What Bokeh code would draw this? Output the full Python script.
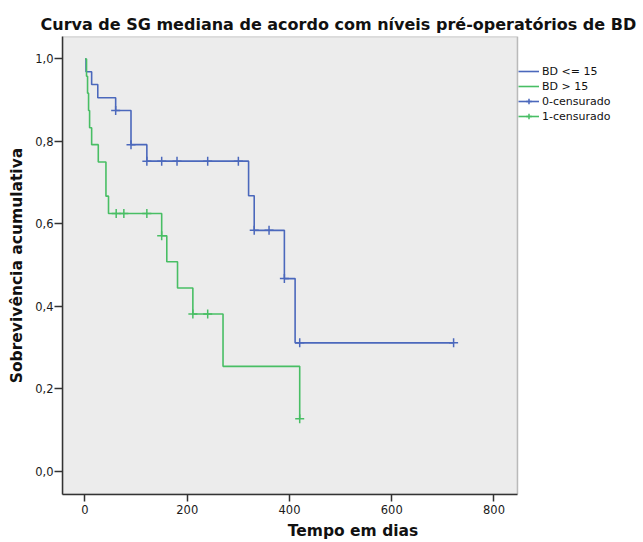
from bokeh.plotting import figure
from bokeh.models import FixedTicker, Range1d, Legend, LegendItem, BoxAnnotation
from bokeh.embed import file_html
from bokeh.resources import INLINE
import numpy as np

title_text = "Curva de SG mediana de acordo com níveis pré-operatórios de BD"
x_label = "Tempo em dias"
y_label = "Sobrevivência acumulativa"

group_labels = ["BD <= 15", "BD > 15"]
censor_labels = ["0-censurado", "1-censurado"]

blue_days = [0, 2, 13, 25, 60, 90, 121, 320, 331, 390, 411, 721]
blue_surv = [1.0, 0.969, 0.938, 0.906, 0.875, 0.792, 0.752, 0.668, 0.584, 0.467, 0.311, 0.311]
blue_censor_days = [60, 90, 121, 150, 180, 240, 300, 331, 360, 390, 420, 721]

green_days = [0, 3, 5, 7, 9, 13, 26, 41, 46, 150, 160, 181, 211, 270, 420]
green_surv = [1.0, 0.958, 0.917, 0.875, 0.833, 0.792, 0.75, 0.667, 0.625, 0.571, 0.508, 0.444, 0.381, 0.254, 0.127]
green_censor_days = [61, 76, 121, 150, 211, 240, 420]

x_ticks = [0, 200, 400, 600, 800]
y_ticks = [0.0, 0.2, 0.4, 0.6, 0.8, 1.0]
y_tick_labels = ["0,0", "0,2", "0,4", "0,6", "0,8", "1,0"]

# axis extent of the plotting box (the legend sits to its right)
X_LO, X_HI = -44, 846
Y_LO, Y_HI = -0.057, 1.0545

BLUE = "#4B68BC"
GREEN = "#48BE64"
FONT = "DejaVu Sans"
FRAME_W = 643 - 62  # canvas frame width in px
PX_PER_DAY = 455 / (X_HI - X_LO)


def level_at(days, surv, t):
    idx = np.searchsorted(np.array(days), np.array(t), side="right") - 1
    return list(np.array(surv)[idx])


p = figure(width=643, height=542, output_backend="svg", toolbar_location=None,
           x_range=Range1d(X_LO, X_LO + FRAME_W / PX_PER_DAY),
           y_range=Range1d(Y_LO, Y_HI),
           min_border_left=62, min_border_right=0, min_border_top=36,
           min_border_bottom=48)

p.background_fill_color = "white"
p.border_fill_color = "white"
p.outline_line_color = None
p.grid.visible = False

box = BoxAnnotation(left=X_LO, right=X_HI, bottom=Y_LO, top=Y_HI,
                    fill_color="#ececec", fill_alpha=1.0,
                    line_color="#333333", line_width=1.5, level="underlay")
p.add_layout(box)

p.title.text = title_text
p.title.text_font = FONT
p.title.text_font_size = "16px"
p.title.text_font_style = "bold"
p.title.text_color = "#111111"
p.title.align = "left"
p.title.offset = -22
p.title.standoff = 6

# axes
p.xaxis.ticker = FixedTicker(ticks=x_ticks)
p.yaxis.ticker = FixedTicker(ticks=y_ticks)
p.xaxis.bounds = (X_LO, X_HI)
p.yaxis.major_label_overrides = {t: l for t, l in zip(y_ticks, y_tick_labels)}
for ax in (p.xaxis[0], p.yaxis[0]):
    ax.axis_line_color = "#333333"
    ax.axis_line_width = 1.5
    ax.major_tick_line_color = "#333333"
    ax.major_tick_line_width = 1.5
    ax.major_tick_in = 0
    ax.minor_tick_line_color = None
    ax.major_label_text_font = FONT
    ax.major_label_text_font_size = "11.5px"
    ax.major_label_text_color = "#1a1a1a"
    ax.axis_label_text_font = FONT
    ax.axis_label_text_font_size = "15.5px"
    ax.axis_label_text_font_style = "bold"
    ax.axis_label_text_color = "#111111"
p.xaxis.major_tick_out = 7
p.xaxis.major_label_standoff = 3
p.xaxis.axis_label = x_label
p.xaxis.axis_label_standoff = 5
p.yaxis.major_tick_out = 8
p.yaxis.major_label_standoff = 1
p.yaxis.axis_label = y_label
p.yaxis.axis_label_standoff = 6

# curves
r_blue = p.step(blue_days, blue_surv, mode="after", line_color=BLUE, line_width=1.6)
r_green = p.step(green_days, green_surv, mode="after", line_color=GREEN, line_width=1.6)

c_blue = p.scatter(blue_censor_days, level_at(blue_days, blue_surv, blue_censor_days),
                   marker="cross", size=9, line_color=BLUE, line_width=1.5)
c_green = p.scatter(green_censor_days, level_at(green_days, green_surv, green_censor_days),
                    marker="cross", size=9, line_color=GREEN, line_width=1.5)

# legend-only line swatches for the censor entries (nothing drawn in the plot)
l_blue = p.line(np.array([np.nan, np.nan]), np.array([np.nan, np.nan]),
                line_color=BLUE, line_width=1.6)
l_green = p.line(np.array([np.nan, np.nan]), np.array([np.nan, np.nan]),
                 line_color=GREEN, line_width=1.6)

legend = Legend(items=[
    LegendItem(label=group_labels[0], renderers=[r_blue]),
    LegendItem(label=group_labels[1], renderers=[r_green]),
    LegendItem(label=censor_labels[0], renderers=[l_blue, c_blue]),
    LegendItem(label=censor_labels[1], renderers=[l_green, c_green]),
], location=(454, 369))
legend.label_text_font = FONT
legend.label_text_font_size = "11px"
legend.label_text_color = "#111111"
legend.glyph_width = 21
legend.glyph_height = 14
legend.label_height = 14
legend.label_standoff = 3
legend.spacing = 1
legend.padding = 2
legend.margin = 0
legend.border_line_alpha = 0
legend.background_fill_alpha = 0
p.add_layout(legend, "center")

open("out.html", "w").write(file_html(p, INLINE))
